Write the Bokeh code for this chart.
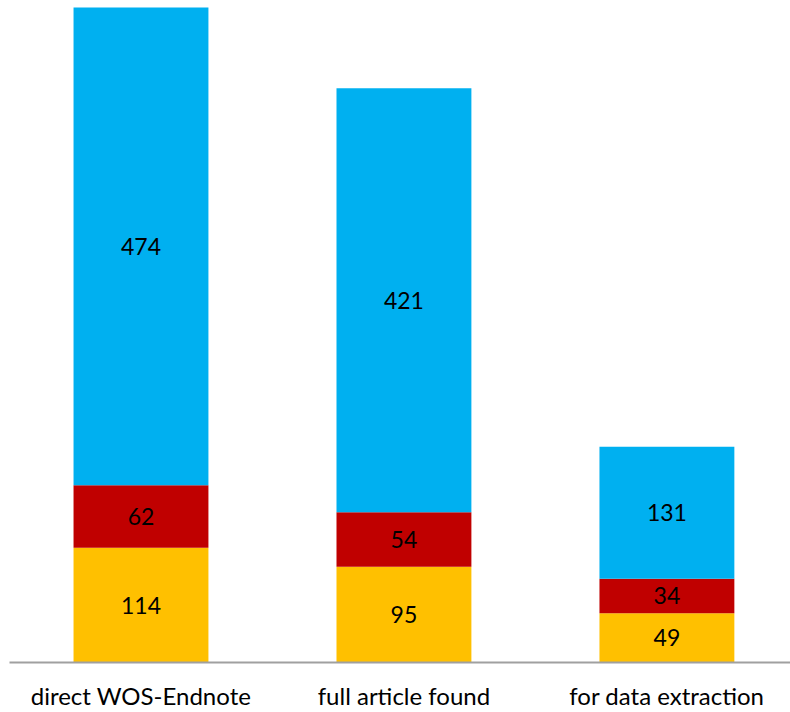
from bokeh.plotting import figure
from bokeh.models import ColumnDataSource, Range1d
from bokeh.core.properties import value
from bokeh.embed import file_html
from bokeh.resources import INLINE

categories = ["direct WOS-Endnote", "full article found", "for data extraction"]
series_names = ["yellow", "red", "blue"]
yellow = [114, 95, 49]
red = [62, 54, 34]
blue = [474, 421, 131]
colors = ["#FFC000", "#C00000", "#00B0F0"]

x = list(range(len(categories)))
data = {"x": x, "yellow": yellow, "red": red, "blue": blue}
src = ColumnDataSource(data)

p = figure(width=790, height=712, output_backend="svg", toolbar_location=None,
           x_range=Range1d(-0.5, 2.47), y_range=Range1d(0, 657),
           min_border_left=9, min_border_right=0, min_border_top=0, min_border_bottom=50)
p.vbar_stack(series_names, x="x", width=0.513, color=colors, source=src, line_color=None)

# labels at segment middles
lx, ly, lt = [], [], []
for i in range(len(categories)):
    base = 0
    for s in (yellow, red, blue):
        lx.append(x[i])
        ly.append(base + s[i] / 2)
        lt.append(str(s[i]))
        base += s[i]
p.text(x=lx, y=ly, text=lt, text_align="center", text_baseline="middle",
       text_font=value("Lato"), text_font_size="23px", text_color="#000000")

p.yaxis.visible = False
p.xgrid.visible = False
p.ygrid.visible = False
p.outline_line_color = None
p.xaxis.ticker = x
p.xaxis.major_label_overrides = {i: c for i, c in enumerate(categories)}
p.xaxis.major_tick_line_color = None
p.xaxis.minor_tick_line_color = None
p.xaxis.axis_line_color = "#A0A0A0"
p.xaxis.axis_line_width = 2
p.xaxis.major_label_text_font = "Lato"
p.xaxis.major_label_text_font_size = "24px"
p.xaxis.major_label_text_color = "#000000"
p.xaxis.major_label_standoff = 12

open("out.html", "w").write(file_html(p, INLINE))
